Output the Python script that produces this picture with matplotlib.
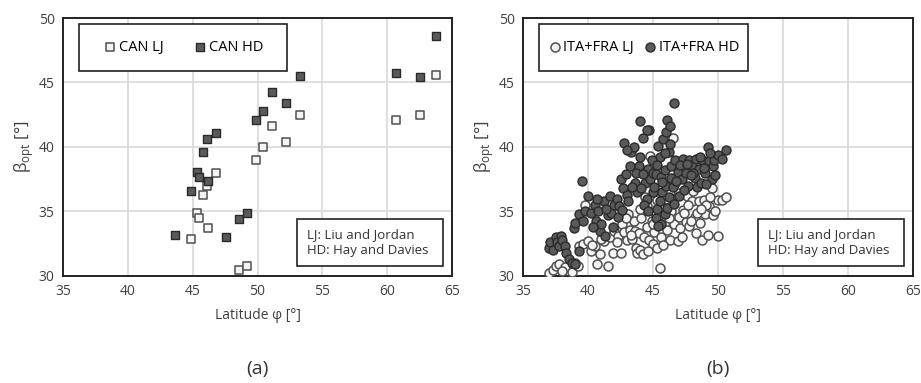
import numpy as np
import matplotlib
matplotlib.use('Agg')
import matplotlib.pyplot as plt
from matplotlib.patches import Rectangle

plt.rcParams['font.family'] = ['Open Sans', 'DejaVu Sans']

# (a) Canada: latitude, beta_opt
can_lj_lat = [44.9, 45.3, 45.5, 45.8, 46.1, 46.2, 46.8, 48.6, 49.2, 49.9, 50.4,
              51.1, 52.2, 53.3, 60.7, 62.5, 63.8]
can_lj_beta = [32.9, 34.9, 34.5, 36.3, 37.0, 33.7, 38.0, 30.5, 30.8, 39.0, 40.0,
               41.6, 40.4, 42.5, 42.1, 42.5, 45.6]
can_hd_lat = [43.6, 44.9, 45.3, 45.5, 45.8, 46.1, 46.2, 46.8, 47.6, 48.6, 49.2,
              49.9, 50.4, 51.1, 52.2, 53.3, 60.7, 62.5, 63.8]
can_hd_beta = [33.2, 36.6, 38.1, 37.7, 39.6, 40.6, 37.4, 41.1, 33.0, 34.4, 34.9,
               42.1, 42.8, 44.3, 43.4, 45.5, 45.7, 45.4, 48.6]

# (b) Italy + France: (latitude, beta_opt)
ita_lj = np.array([
    (37.0, 30.2), (37.3, 30.5), (37.5, 30.8), (37.8, 30.9), (38.2, 30.7), (38.8, 30.3),
    (39.0, 31.0), (39.3, 32.3), (39.6, 32.5), (39.8, 35.5), (40.0, 32.7), (40.2, 31.9),
    (40.5, 32.3), (40.7, 30.9), (40.9, 31.7), (41.2, 32.7), (41.5, 30.8), (41.7, 33.0),
    (41.9, 31.8), (42.0, 33.5), (42.3, 33.1), (42.5, 31.8), (42.6, 34.0), (42.8, 33.4),
    (43.0, 32.8), (43.2, 33.6), (43.4, 32.9), (43.5, 34.3), (43.6, 33.5), (43.7, 32.2),
    (43.8, 31.8), (43.9, 33.3), (44.0, 32.0), (44.1, 34.5), (44.2, 31.7), (44.3, 33.0),
    (44.5, 35.4), (44.5, 33.8), (44.7, 32.8), (44.8, 39.3), (44.9, 34.3), (45.0, 32.5),
    (45.1, 33.4), (45.2, 34.8), (45.3, 32.2), (45.5, 30.6), (45.6, 33.0), (45.7, 35.6),
    (45.9, 34.2), (46.0, 36.0), (46.1, 33.6), (46.3, 32.8), (46.4, 35.0), (46.5, 40.7),
    (46.6, 34.0), (46.8, 36.3), (46.9, 32.7), (47.0, 34.6), (47.1, 33.7), (47.2, 33.0),
    (47.3, 35.1), (47.5, 34.2), (47.6, 36.2), (47.8, 33.9), (48.0, 35.8), (48.2, 34.6),
    (48.3, 33.3), (48.5, 35.8), (48.6, 34.1), (48.8, 32.8), (48.9, 35.9), (49.0, 34.8),
    (49.2, 33.2), (49.3, 35.4), (49.5, 36.8), (49.6, 34.7), (49.8, 35.0), (50.0, 33.1),
    (50.0, 35.9), (50.3, 35.9), (50.6, 36.1), (42.2, 32.6), (43.1, 34.8), (44.4, 36.1),
    (44.6, 31.9), (45.4, 36.3), (45.8, 32.4), (46.2, 34.5), (46.7, 37.2), (47.4, 34.9),
    (47.9, 34.3), (48.4, 34.9), (49.1, 35.5), (43.3, 33.2), (42.9, 34.5), (41.0, 32.9),
    (40.3, 32.4), (39.2, 30.8), (38.0, 30.4), (44.0, 35.2), (45.0, 34.0), (47.7, 35.5),
    (46.9, 36.4), (48.1, 36.6), (46.3, 36.6), (45.3, 35.9), (49.4, 36.1), (48.7, 35.2)])

ita_hd = np.array([
    (37.0, 32.2), (37.1, 32.6), (37.3, 32.0), (37.5, 33.0), (37.6, 32.6), (37.8, 32.3),
    (37.9, 33.1), (38.0, 32.8), (38.2, 32.3), (38.3, 31.8), (38.5, 31.3), (38.8, 31.0),
    (39.0, 30.9), (39.3, 31.9), (38.9, 33.7), (39.0, 34.1), (39.3, 34.8), (39.5, 37.4),
    (39.8, 35.0), (40.0, 36.2), (40.2, 34.9), (40.5, 35.5), (40.6, 34.3), (40.8, 35.0),
    (40.9, 33.5), (41.0, 34.0), (41.2, 35.8), (41.3, 33.1), (41.5, 34.7), (41.7, 36.2),
    (41.8, 34.9), (42.0, 35.5), (42.2, 36.0), (42.4, 35.4), (42.5, 37.5), (42.7, 36.8),
    (42.8, 40.3), (42.9, 37.9), (43.0, 36.3), (43.2, 38.5), (43.3, 39.6), (43.5, 40.0),
    (43.6, 37.2), (43.8, 36.5), (43.9, 38.5), (44.0, 42.0), (44.0, 39.2), (44.2, 40.7),
    (44.3, 38.0), (44.4, 37.2), (44.5, 36.0), (44.6, 38.3), (44.7, 41.3), (44.8, 37.5),
    (45.0, 38.0), (45.0, 36.5), (45.2, 37.9), (45.3, 35.2), (45.4, 40.1), (45.5, 39.2),
    (45.6, 37.7), (45.7, 36.5), (45.8, 40.6), (45.9, 38.2), (46.0, 41.2), (46.0, 37.0),
    (46.1, 42.1), (46.2, 39.6), (46.3, 40.2), (46.4, 38.5), (46.5, 36.9), (46.6, 43.4),
    (46.7, 39.0), (46.9, 38.1), (47.0, 36.2), (47.2, 37.5), (47.3, 39.1), (47.5, 38.0),
    (47.7, 37.0), (47.8, 39.0), (48.0, 38.6), (48.2, 37.6), (48.3, 39.1), (48.4, 36.9),
    (48.5, 38.3), (48.7, 37.2), (48.8, 39.0), (49.0, 38.0), (49.2, 40.0), (49.3, 38.9),
    (49.5, 37.5), (49.6, 38.5), (49.7, 39.0), (49.8, 37.8), (50.0, 39.4), (50.3, 39.1),
    (50.6, 39.8), (45.2, 34.5), (45.6, 34.0), (45.9, 34.8), (46.1, 35.3), (45.4, 33.9),
    (43.1, 35.8), (43.4, 36.9), (43.7, 38.0), (44.1, 36.8), (44.3, 35.5), (44.9, 39.0),
    (45.1, 36.9), (45.3, 38.6), (45.7, 37.3), (46.2, 36.1), (46.4, 37.6), (46.8, 37.4),
    (47.1, 38.6), (47.4, 36.7), (47.6, 38.7), (48.1, 38.0), (48.6, 39.2), (49.1, 37.1),
    (41.4, 35.2), (41.9, 33.8), (42.3, 34.6), (42.6, 35.1), (40.4, 33.8), (40.7, 36.0),
    (39.6, 34.3), (44.5, 41.3), (45.9, 39.5), (46.3, 41.6), (43.0, 39.8), (44.6, 35.0),
    (45.5, 35.8), (44.2, 37.9), (46.6, 35.6), (47.9, 37.8), (48.9, 38.4), (49.4, 39.5)])

xticks = [35, 40, 45, 50, 55, 60, 65]
yticks = [30, 35, 40, 45, 50]

fig = plt.figure(figsize=(9.21, 3.83), dpi=100)
ax1 = fig.add_axes([0.0684, 0.2794, 0.4224, 0.6736])
ax2 = fig.add_axes([0.5679, 0.2794, 0.4235, 0.6736])

lj_face, lj_edge = '#f4f4f4', '#505050'
hd_face, hd_edge = '#5a5a5a', '#2a2a2a'

# Excel-like order: LJ series first, HD drawn over it
ax1.scatter(can_lj_lat, can_lj_beta, marker='s', s=36, facecolor=lj_face,
            edgecolor=lj_edge, linewidth=1.1, zorder=3, label='CAN LJ')
ax1.scatter(can_hd_lat, can_hd_beta, marker='s', s=36, facecolor=hd_face,
            edgecolor=hd_edge, linewidth=1.0, zorder=4, label='CAN HD')

ax2.scatter(ita_lj[:, 0], ita_lj[:, 1], marker='o', s=42, facecolor=lj_face,
            edgecolor=lj_edge, linewidth=1.1, zorder=3, label='ITA+FRA LJ')
ax2.scatter(ita_hd[:, 0], ita_hd[:, 1], marker='o', s=42, facecolor=hd_face,
            edgecolor=hd_edge, linewidth=1.0, zorder=4, label='ITA+FRA HD')

for ax, tag in [(ax1, '(a)'), (ax2, '(b)')]:
    ax.set_xlim(35, 65)
    ax.set_ylim(30, 50)
    ax.set_xticks(xticks)
    ax.set_yticks(yticks)
    ax.grid(True, color='#d9d9d9', linewidth=1.2, zorder=0)
    ax.set_axisbelow(True)
    ax.tick_params(length=0, labelsize=10, colors='#404040', pad=6)
    for sp in ax.spines.values():
        sp.set_linewidth(1.4)
        sp.set_color('#222222')
    ax.set_xlabel('Latitude φ [°]', fontsize=10, color='#404040', labelpad=6)
    ax.set_ylabel('β$_{\\mathregular{opt}}$ [°]', fontsize=12, color='#404040', labelpad=2)
    ax.text(0.5, -0.36, tag, transform=ax.transAxes, ha='center', va='center',
            fontsize=14, color='#333333')
    # legend frame
    ax.add_patch(Rectangle((0.041, 0.795), 0.535, 0.182, transform=ax.transAxes,
                           facecolor='white', edgecolor='#222222', linewidth=1.2, zorder=5))
    # note box
    ax.add_patch(Rectangle((0.602, 0.039), 0.375, 0.182, transform=ax.transAxes,
                           facecolor='white', edgecolor='#222222', linewidth=1.2, zorder=5))
    ax.text(0.627, 0.13, 'LJ: Liu and Jordan\nHD: Hay and Davies', transform=ax.transAxes,
            ha='left', va='center', fontsize=9.5, color='#333333', linespacing=1.3, zorder=6)

ax1.legend(ncol=2, loc='center', bbox_to_anchor=(0.041, 0.795, 0.535, 0.182),
           frameon=False, fontsize=10.5, handletextpad=0.1, columnspacing=2.0,
           handlelength=1.0).set_zorder(7)
ax2.legend(ncol=2, loc='center', bbox_to_anchor=(0.041, 0.795, 0.535, 0.182),
           frameon=False, fontsize=10.5, handletextpad=0.1, columnspacing=0.6,
           handlelength=1.0).set_zorder(7)

fig.savefig('out.png', dpi=100)
